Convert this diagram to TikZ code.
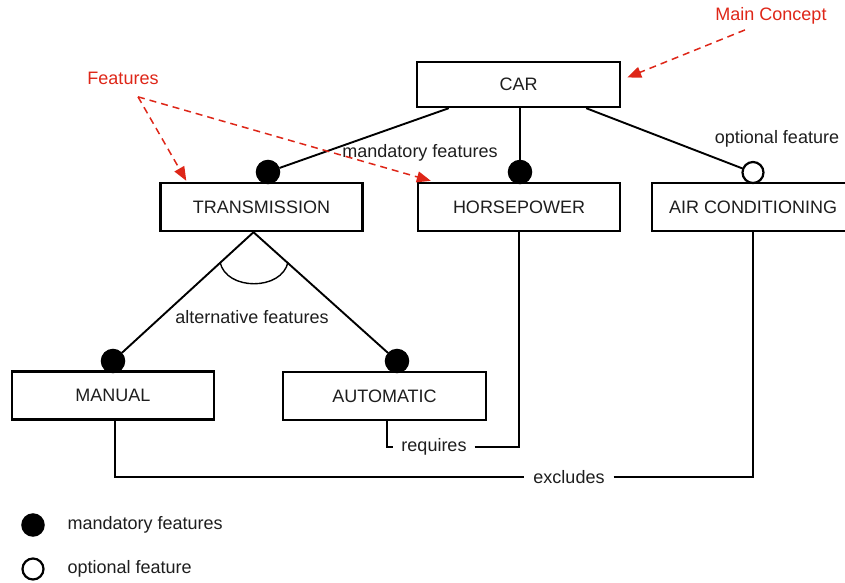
\documentclass[tikz,border=0pt]{standalone}
\usepackage{fontspec}
\setmainfont{Liberation Sans}
\usetikzlibrary{arrows.meta,calc}
\definecolor{notered}{RGB}{222,38,24}
\definecolor{inkgray}{RGB}{30,30,30}
\begin{document}
\begin{tikzpicture}[x=1pt,y=-1pt,
  every node/.style={font=\fontsize{18}{21}\selectfont, text=inkgray},
  feature/.style={draw=black, line width=2.4pt, fill=white, minimum width=202pt, minimum height=48pt, inner sep=0pt},
  link/.style={draw=black, line width=1.9pt},
  mandot/.style={circle, draw=black, fill=black, line width=1.5pt, minimum size=23pt, inner sep=0pt},
  optdot/.style={circle, draw=black, fill=white, line width=2.2pt, minimum size=21pt, inner sep=0pt},
  linklabel/.style={fill=white, inner xsep=8pt, inner ysep=2pt},
  remark/.style={text=notered},
  remarkarrow/.style={draw=notered, line width=1.5pt, dash pattern=on 7pt off 5pt,
    -{Triangle[length=14pt,width=11pt,fill=notered]}}
]
\useasboundingbox (0,0) rectangle (845,582);

% feature boxes
\node[feature, minimum height=45pt, minimum width=203pt] (car) at (518.5,84.5) {CAR};
\node[feature] (trans) at (261.5,207) {TRANSMISSION};
\node[feature] (hp) at (519,207) {HORSEPOWER};
\node[feature] (air) at (753,207) {AIR CONDITIONING};
\node[feature] (manual) at (113,395.5) {MANUAL};
\node[feature, minimum width=203pt] (auto) at (384.5,396) {AUTOMATIC};

% markers on the child features
\node[mandot] (transdot) at (268,172) {};
\node[mandot] (hpdot) at (520,172) {};
\node[optdot] (airdot) at (753,172.5) {};
\node[mandot] (mandot1) at (113,361) {};
\node[mandot] (autodot) at (397,361) {};

% CAR decomposition
\draw[link] ($(car.south west)+(33,0)$) -- (transdot);
\draw[link] (hpdot |- car.south) -- (hpdot);
\draw[link] ($(car.south east)+(-35,0)$) -- (airdot);
\node (mandlbl) at (420,153) {mandatory features};
\node (optlbl) at (777,139) {optional feature};

% alternative group under TRANSMISSION
\coordinate (apex) at ($(trans.south)+(-8,0)$);
\draw[link] (apex) -- (mandot1);
\draw[link] (apex) -- (autodot);
\draw[black, line width=1.4pt] (220,262) .. controls (226,291) and (282,291) .. (288,262);
\node (altlbl) at (252,317) {alternative features};

% cross-tree constraints
\node[linklabel] (req) at (434,447) {requires};
\draw[link] ([xshift=2.5pt]auto.south) |- (req.west);
\draw[link] (req.east) -| (hp.south);
\node[linklabel, inner xsep=9pt] (excl) at (569,477) {excludes};
\draw[link] ([xshift=2pt]manual.south) |- (excl.west);
\draw[link] (excl.east) -| (air.south);

% legend
\node[mandot, minimum size=22pt] (legfull) at (33,525) {};
\node[anchor=west] (legfulltxt) at (64,525) {mandatory features};
\node[optdot] (legopen) at (33,569) {};
\node[anchor=west] (legopentxt) at (64,569) {optional feature};

% annotations
\node[remark] (mainlbl) at (771,16) {Main Concept};
\node[remark] (featlbl) at (123,78) {Features};
\draw[remarkarrow] ($(mainlbl.south)+(-26,2)$) -- ($(car.east)+(6,-7)$);
\draw[remarkarrow] ($(featlbl.south)+(15,9)$) -- ($(trans.north west)+(27,-1)$);
\draw[remarkarrow] ($(featlbl.south)+(15,9)$) -- ($(hp.north west)+(14,-1)$);
\end{tikzpicture}
\end{document}
